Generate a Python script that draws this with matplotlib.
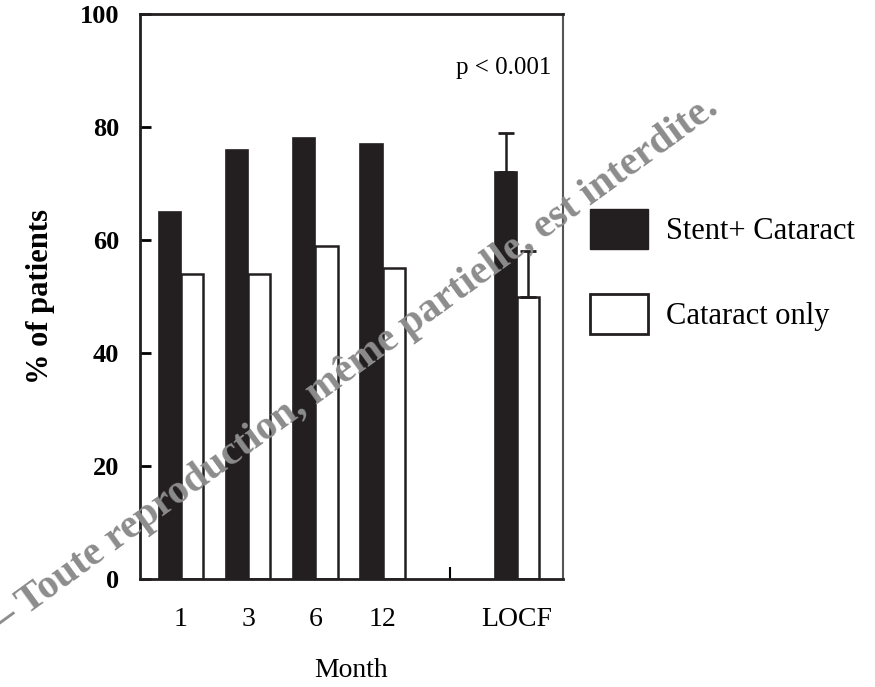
import numpy as np
from matplotlib import pyplot as plt
from matplotlib.patches import Patch

months = ["1", "3", "6", "12", "LOCF"]
positions = [0, 1, 2, 3, 5]
stent_cataract = [65, 76, 78, 77, 72]
cataract_only = [54, 54, 59, 55, 50]
stent_err = [0, 0, 0, 0, 7]
cataract_err = [0, 0, 0, 0, 8]

plt.rcParams['font.family'] = ['Liberation Serif', 'DejaVu Serif']

fig = plt.figure(figsize=(8.75, 6.87), dpi=100)
ax = fig.add_axes([0.16, 0.157, 0.4834, 0.8226])

w = 0.33
x = np.array(positions)
ax.bar(x - w/2, stent_cataract, w, color="#231f20", edgecolor="#231f20", linewidth=1.2)
ax.bar(x + w/2, cataract_only, w, color="white", edgecolor="#231f20", linewidth=1.8)
# only LOCF has error bars (upper only)
ax.errorbar([positions[4] - w/2], [stent_cataract[4]], yerr=[[0], [stent_err[4]]],
            fmt="none", ecolor="#231f20", elinewidth=1.8, capsize=6, capthick=2)
ax.errorbar([positions[4] + w/2], [cataract_only[4]], yerr=[[0], [cataract_err[4]]],
            fmt="none", ecolor="#231f20", elinewidth=1.8, capsize=6, capthick=2)

ax.set_xlim(-0.61, 5.685)
ax.set_ylim(0, 100)
ax.set_yticks([0, 20, 40, 60, 80, 100])
ax.set_xticks(positions)
ax.set_xticklabels(months)
ax.set_xticks([4], minor=True)

ax.tick_params(axis="y", direction="in", length=8, width=2, pad=15, labelsize=19)
ax.tick_params(axis="x", which="major", length=0, pad=20, labelsize=20)
ax.tick_params(axis="x", which="minor", direction="in", length=9, width=1.5)
for lab in ax.get_yticklabels():
    lab.set_fontweight("bold")

for s in ["left", "bottom", "top"]:
    ax.spines[s].set_linewidth(2)
    ax.spines[s].set_color("#231f20")
ax.spines["right"].set_linewidth(1.5)
ax.spines["right"].set_color("#555555")

ax.set_ylabel("% of patients", fontsize=22, fontweight="bold", labelpad=18)
ax.set_xlabel("Month", fontsize=20, labelpad=19)

ax.text(0.973, 0.905, "p < 0.001", transform=ax.transAxes, ha="right", va="center", fontsize=18)

handles = [Patch(facecolor="#231f20", edgecolor="#231f20"),
           Patch(facecolor="white", edgecolor="#231f20", linewidth=2)]
fig.legend(handles, ["Stent+ Cataract", "Cataract only"], loc="upper left",
           bbox_to_anchor=(590/875, 1 - 209/687), frameon=False, fontsize=22,
           handlelength=1.9, handleheight=1.65, labelspacing=1.45, handletextpad=0.6,
           borderpad=0, borderaxespad=0)

fig.text(720/875, 1 - 112/687, "– Toute reproduction, même partielle, est interdite.",
         rotation=36, rotation_mode="anchor", ha="right", va="baseline",
         fontsize=29.5, fontweight="bold", color="#8c8c8c")

fig.savefig("out.png", dpi=100)
